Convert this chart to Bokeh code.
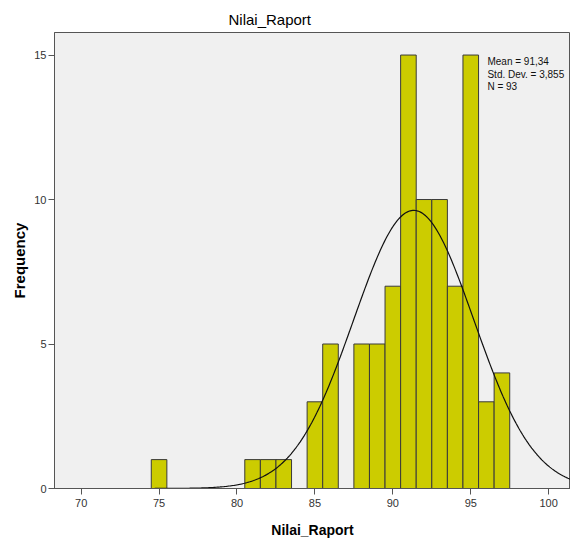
import numpy as np
from bokeh.plotting import figure
from bokeh.models import Range1d, FixedTicker, Label
from bokeh.embed import file_html
from bokeh.resources import INLINE

# Histogram data (bin centres, width 1)
bin_centers = [75, 81, 82, 83, 85, 86, 88, 89, 90, 91, 92, 93, 94, 95, 96, 97]
counts = [1, 1, 1, 1, 3, 5, 5, 5, 7, 15, 10, 10, 7, 15, 3, 4]
bin_width = 1.0

# Summary statistics shown in the legend
mean_val = 91.34
std_val = 3.855
n_val = 93
stats_text = "Mean = 91,34\nStd. Dev. = 3,855\nN = 93"

x_ticks = [70, 75, 80, 85, 90, 95, 100]
y_ticks = [0, 5, 10, 15]

FONT = "Liberation Sans"

p = figure(width=570, height=542, output_backend="svg", toolbar_location=None,
           x_range=Range1d(68.29, 101.4), y_range=Range1d(0, 15.78),
           min_border_left=54, min_border_right=0, min_border_top=32,
           min_border_bottom=54)

p.border_fill_color = "white"
p.background_fill_color = "#F0F0F0"
p.outline_line_color = "#555555"
p.outline_line_width = 1
p.xgrid.visible = False
p.ygrid.visible = False

left = [c - bin_width / 2 for c in bin_centers]
right = [c + bin_width / 2 for c in bin_centers]
p.quad(left=left, right=right, bottom=0, top=counts,
       fill_color="#CCCC00", line_color="#3A3A3A", line_width=1)

# Normal curve from the reported statistics
xs = np.linspace(68.29, 101.4, 400)
ys = n_val * bin_width / (std_val * np.sqrt(2 * np.pi)) * np.exp(-0.5 * ((xs - mean_val) / std_val) ** 2)
p.line(xs, ys, line_color="#111111", line_width=1.2)

# Title
p.title.text = "Nilai_Raport"
p.title.align = "left"
p.title.offset = 174
p.title.text_font = FONT
p.title.text_font_size = "15px"
p.title.text_font_style = "normal"
p.title.text_color = "#000000"
p.title.standoff = 9

# Axes
for ax in (p.xaxis, p.yaxis):
    ax.major_label_text_font = FONT
    ax.major_label_text_font_size = "11px"
    ax.major_label_text_color = "#333333"
    ax.axis_line_color = "#555555"
    ax.major_tick_line_color = "#555555"
    ax.major_tick_out = 6
    ax.major_tick_in = 0
    ax.minor_tick_line_color = None
    ax.axis_label_text_font = FONT
    ax.axis_label_text_font_style = "bold"
    ax.axis_label_text_color = "#000000"

p.xaxis.ticker = FixedTicker(ticks=x_ticks)
p.yaxis.ticker = FixedTicker(ticks=y_ticks)
p.xaxis.axis_label = "Nilai_Raport"
p.yaxis.axis_label = "Frequency"
p.xaxis.axis_label_text_font_size = "14px"
p.yaxis.axis_label_text_font_size = "15px"
p.xaxis.major_label_standoff = 4
p.yaxis.major_label_standoff = 2
p.xaxis.axis_label_standoff = 12
p.yaxis.axis_label_standoff = 3

stats = Label(x=96.07, y=14.95, text=stats_text, text_font=FONT,
              text_font_size="10px", text_color="#111111",
              text_baseline="top", text_line_height=1.1)
p.add_layout(stats)

open("out.html", "w").write(file_html(p, INLINE))
